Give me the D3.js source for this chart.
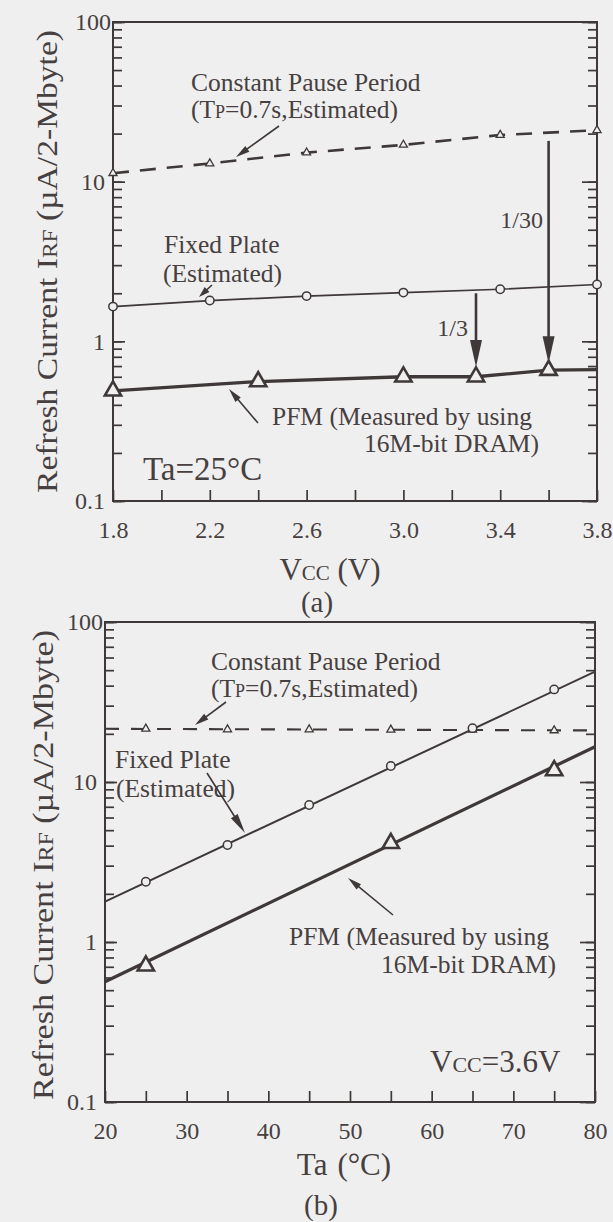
<!DOCTYPE html>
<html>
<head>
<meta charset="utf-8">
<script src="https://cdn.jsdelivr.net/npm/d3@7"></script>
<style>
html, body { margin: 0; padding: 0; background: #f0efef; }
svg { display: block; }
text { font-family: "Liberation Serif", "Times New Roman", serif; fill: #464040; }
</style>
</head>
<body>
<svg id="chart" width="613" height="1222"></svg>
<script>
// ---------------- data ----------------
const yTickValues = [0.1, 1, 10, 100];
const yTickLabels = ["0.1", "1", "10", "100"];

// panel (a): refresh current vs Vcc, Ta = 25 C
const vccTickValues = [1.8, 2.2, 2.6, 3.0, 3.4, 3.8];
const vccTickLabels = ["1.8", "2.2", "2.6", "3.0", "3.4", "3.8"];
const vccMinorTicks = [1.8, 2.0, 2.2, 2.4, 2.6, 2.8, 3.0, 3.2, 3.4, 3.6, 3.8];

const cppVcc = [1.8, 2.2, 2.6, 3.0, 3.4, 3.8];
const cppVccValues = [11.3, 13.0, 15.2, 17.0, 19.6, 21.0];
const fixedVcc = [1.8, 2.2, 2.6, 3.0, 3.4, 3.8];
const fixedVccValues = [1.65, 1.80, 1.92, 2.02, 2.12, 2.27];
const pfmVcc = [1.8, 2.4, 3.0, 3.3, 3.6];
const pfmVccValues = [0.49, 0.56, 0.60, 0.60, 0.66];
const pfmVccLine = [1.8, 2.4, 3.0, 3.3, 3.6, 3.8];
const pfmVccLineValues = [0.49, 0.56, 0.60, 0.60, 0.66, 0.665];

const reductionVcc = [3.3, 3.6];
const reductionFrom = [2.0, 18.0];
const reductionTo = [0.69, 0.73];
const reductionLabels = ["1/3", "1/30"];

// panel (b): refresh current vs Ta, Vcc = 3.6 V
const taTickValues = [20, 30, 40, 50, 60, 70, 80];
const taTickLabels = ["20", "30", "40", "50", "60", "70", "80"];
const taMinorTicks = [20, 25, 30, 35, 40, 45, 50, 55, 60, 65, 70, 75, 80];

const cppTa = [25, 35, 45, 55, 65, 75];
const cppTaValues = [21.5, 21.3, 21.3, 21.2, 21.2, 21.0];
const cppTaLine = [20, 80];
const cppTaLineValues = [21.5, 21.0];
const fixedTa = [25, 35, 45, 55, 65, 75];
const fixedTaValues = [2.38, 4.04, 7.18, 12.6, 21.7, 37.9];
const fixedTaLine = [20, 80];
const fixedTaLineValues = [1.79, 48.9];
const pfmTa = [25, 55, 75];
const pfmTaValues = [0.71, 4.14, 11.8];
const pfmTaLine = [20, 80];
const pfmTaLineValues = [0.565, 16.6];

// ---------------- drawing ----------------
const BG = "#f0efef";
const INK = "#3e3838";
const TXT = "#464040";

const svg = d3.select("#chart");
svg.append("rect").attr("width", 613).attr("height", 1222).attr("fill", BG);

function arrow(g, x1, y1, x2, y2, headLen, headW, sw) {
  const dx = x2 - x1, dy = y2 - y1;
  const L = Math.hypot(dx, dy);
  const ux = dx / L, uy = dy / L;
  const bx = x2 - ux * headLen, by = y2 - uy * headLen;
  g.append("line")
    .attr("x1", x1).attr("y1", y1)
    .attr("x2", x2 - ux * headLen * 0.5).attr("y2", y2 - uy * headLen * 0.5)
    .attr("stroke", INK).attr("stroke-width", sw);
  const px = -uy * headW / 2, py = ux * headW / 2;
  g.append("path")
    .attr("d", `M${x2},${y2}L${bx + px},${by + py}L${bx - px},${by - py}Z`)
    .attr("fill", INK);
}

function addText(g, x, y, parts, opts = {}) {
  const t = g.append("text").attr("x", x).attr("y", y)
    .attr("text-anchor", opts.anchor || "start");
  if (opts.transform) t.attr("transform", opts.transform).attr("x", 0).attr("y", 0);
  if (opts.textLength) t.attr("textLength", opts.textLength).attr("lengthAdjust", "spacingAndGlyphs");
  parts.forEach(p => {
    const s = t.append("tspan").attr("font-size", p[1]).text(p[0]);
    if (p[2]) s.attr("dx", p[2]);
  });
  return t;
}

function styleAxis(sel) {
  sel.select(".domain").remove();
  sel.attr("font-family", null).attr("font-size", null);
  sel.selectAll(".tick line").attr("stroke", INK).attr("stroke-width", 1.7);
  sel.selectAll(".tick text").attr("font-size", 24).attr("fill", TXT);
}

function drawPanel(p) {
  const g = svg.append("g");
  const x = d3.scaleLinear().domain(p.xDomain).range([p.left, p.right]);
  const y = d3.scaleLog().domain([0.1, 100]).range([p.bottom, p.top]);

  // left axis: minor + major ticks (inside)
  g.append("g").attr("transform", `translate(${p.left},0)`)
    .call(d3.axisLeft(y).tickValues(y.ticks()).tickSize(-9).tickFormat(""))
    .call(styleAxis);
  const la = g.append("g").attr("transform", `translate(${p.left},0)`)
    .call(d3.axisLeft(y).tickValues(yTickValues).tickSize(-12).tickPadding(8)
      .tickFormat((d, i) => yTickLabels[i]))
    .call(styleAxis);
  la.selectAll(".tick text").filter(d => d === 100).attr("x", -2);

  // right axis
  g.append("g").attr("transform", `translate(${p.right},0)`)
    .call(d3.axisRight(y).tickValues(y.ticks()).tickSize(-9).tickFormat(""))
    .call(styleAxis);
  g.append("g").attr("transform", `translate(${p.right},0)`)
    .call(d3.axisRight(y).tickValues(yTickValues).tickSize(-15).tickFormat(""))
    .call(styleAxis);

  // bottom axis
  g.append("g").attr("transform", `translate(0,${p.bottom})`)
    .call(d3.axisBottom(x).tickValues(p.xMinor).tickSize(-11).tickPadding(20)
      .tickFormat(d => {
        const i = p.xMajor.findIndex(v => Math.abs(v - d) < 1e-9);
        return i >= 0 ? p.xLabels[i] : "";
      }))
    .call(styleAxis);

  // frame
  g.append("rect").attr("x", p.left).attr("y", p.top)
    .attr("width", p.right - p.left).attr("height", p.bottom - p.top)
    .attr("fill", "none").attr("stroke", INK).attr("stroke-width", 2);

  const line = d3.line().x(d => x(d[0])).y(d => y(d[1]));

  // constant pause period (dashed)
  g.append("path").datum(d3.zip(p.cppLine, p.cppLineValues)).attr("d", line)
    .attr("fill", "none").attr("stroke", INK).attr("stroke-width", p.cppWidth)
    .attr("stroke-dasharray", p.dash);
  g.selectAll(null).data(d3.zip(p.cpp, p.cppValues)).join("path")
    .attr("transform", d => `translate(${x(d[0])},${y(d[1])})`)
    .attr("d", d3.symbol().type(d3.symbolTriangle).size(28))
    .attr("fill", BG).attr("stroke", INK).attr("stroke-width", 1.3);

  // fixed plate (thin solid, circles)
  g.append("path").datum(d3.zip(p.fixedLine, p.fixedLineValues)).attr("d", line)
    .attr("fill", "none").attr("stroke", INK).attr("stroke-width", p.fixedWidth);

  // PFM (thick, big triangles)
  g.append("path").datum(d3.zip(p.pfmLine, p.pfmLineValues)).attr("d", line)
    .attr("fill", "none").attr("stroke", INK).attr("stroke-width", 3.3);
  g.selectAll(null).data(d3.zip(p.pfm, p.pfmValues)).join("path")
    .attr("transform", d => `translate(${x(d[0])},${y(d[1])})`)
    .attr("d", d3.symbol().type(d3.symbolTriangle).size(115))
    .attr("fill", BG).attr("stroke", INK).attr("stroke-width", 2.6);

  g.selectAll(null).data(d3.zip(p.fixed, p.fixedValues)).join("circle")
    .attr("cx", d => x(d[0])).attr("cy", d => y(d[1])).attr("r", 4.2)
    .attr("fill", BG).attr("stroke", INK).attr("stroke-width", 1.5);

  return { g, x, y };
}

// ----- panel (a) -----
const A = drawPanel({
  left: 113, right: 597, top: 22, bottom: 501,
  xDomain: [1.8, 3.8], xMinor: vccMinorTicks, xMajor: vccTickValues, xLabels: vccTickLabels,
  cpp: cppVcc, cppValues: cppVccValues, cppLine: cppVcc, cppLineValues: cppVccValues,
  cppWidth: 2.6, dash: "16,11",
  fixed: fixedVcc, fixedValues: fixedVccValues, fixedLine: fixedVcc, fixedLineValues: fixedVccValues,
  fixedWidth: 1.7,
  pfm: pfmVcc, pfmValues: pfmVccValues, pfmLine: pfmVccLine, pfmLineValues: pfmVccLineValues
});

// reduction arrows
reductionVcc.forEach((v, i) => {
  arrow(A.g, A.x(v), A.y(reductionFrom[i]), A.x(v), A.y(reductionTo[i]), 27, 12, 2.6);
});
addText(A.g, 468, 336, [[reductionLabels[0], 24]], { anchor: "end" });
addText(A.g, 543, 228, [[reductionLabels[1], 24]], { anchor: "end" });

addText(A.g, 191, 91, [["Constant Pause Period", 25.5]]);
addText(A.g, 191, 118, [["(T", 25.5], ["P", 18], ["=0.7s,Estimated)", 25.5]]);
arrow(A.g, 279, 126, 236, 157, 14, 7, 1.6);
addText(A.g, 164, 253, [["Fixed Plate", 25.5]]);
addText(A.g, 163, 282, [["(Estimated)", 25.5]]);
arrow(A.g, 212, 285, 199, 297, 11, 7, 1.6);
arrow(A.g, 258, 423, 229, 389, 14, 7, 1.6);
addText(A.g, 272, 425, [["PFM (Measured by using", 25.5]]);
addText(A.g, 364, 452, [["16M-bit DRAM)", 25.5]]);
addText(A.g, 143, 480, [["Ta=25°C", 33]]);

addText(A.g, 0, 0, [["Refresh Current I", 30], ["RF", 21], [" (µA/2-Mbyte)", 30]],
  { anchor: "middle", transform: "translate(57,261.5) rotate(-90)", textLength: 463 });
addText(A.g, 330, 580, [["V", 31], ["CC", 21], [" (V)", 31]], { anchor: "middle" });
addText(A.g, 317, 612, [["(a)", 29]], { anchor: "middle" });

// ----- panel (b) -----
const B = drawPanel({
  left: 105, right: 595, top: 622, bottom: 1102,
  xDomain: [20, 80], xMinor: taMinorTicks, xMajor: taTickValues, xLabels: taTickLabels,
  cpp: cppTa, cppValues: cppTaValues, cppLine: cppTaLine, cppLineValues: cppTaLineValues,
  cppWidth: 2.1, dash: "14,12",
  fixed: fixedTa, fixedValues: fixedTaValues, fixedLine: fixedTaLine, fixedLineValues: fixedTaLineValues,
  fixedWidth: 2,
  pfm: pfmTa, pfmValues: pfmTaValues, pfmLine: pfmTaLine, pfmLineValues: pfmTaLineValues
});

addText(B.g, 211, 670, [["Constant Pause Period", 25.5]]);
addText(B.g, 211, 697, [["(T", 25.5], ["P", 18], ["=0.7s,Estimated)", 25.5]]);
arrow(B.g, 226, 702, 195, 725, 14, 7, 1.6);
addText(B.g, 115, 768, [["Fixed Plate", 25.5]]);
addText(B.g, 116, 797, [["(Estimated)", 25.5]]);
arrow(B.g, 207, 773, 245, 833, 20, 8, 1.6);
arrow(B.g, 393, 915, 348, 878, 14, 7, 1.6);
addText(B.g, 289, 945, [["PFM (Measured by using", 25.5]]);
addText(B.g, 381, 973, [["16M-bit DRAM)", 25.5]]);
addText(B.g, 430, 1072, [["V", 31], ["CC", 22], ["=3.6V", 31]]);

addText(B.g, 0, 0, [["Refresh Current I", 30], ["RF", 21], [" (µA/2-Mbyte)", 30]],
  { anchor: "middle", transform: "translate(53,865) rotate(-90)", textLength: 470 });
addText(B.g, 344, 1175, [["Ta", 31], ["(°C)", 31, 10]], { anchor: "middle" });
addText(B.g, 321, 1215, [["(b)", 29]], { anchor: "middle" });
</script>
</body>
</html>
